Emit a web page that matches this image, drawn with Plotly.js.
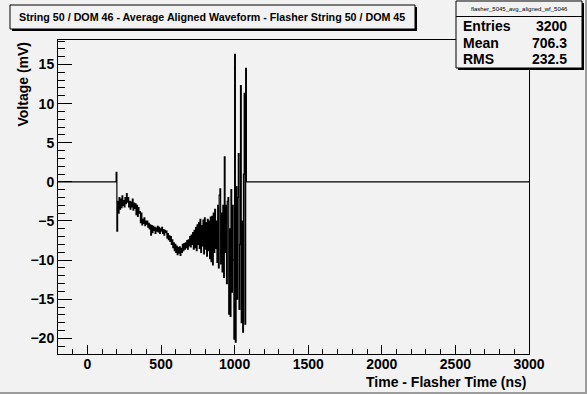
<!DOCTYPE html>
<html><head>
<meta charset="utf-8">
<script src="https://cdn.plot.ly/plotly-3.0.1.min.js"></script>
<style>
html,body{margin:0;padding:0;background:#f2f2f2;}
#wrap{width:587px;height:394px;box-sizing:border-box;border-right:2px solid #9c9c9c;border-bottom:2px solid #9c9c9c;overflow:hidden;background:#f2f2f2;}
#chart{width:585px;height:392px;}
</style></head><body><div id="wrap"><div id="chart"></div></div>
<script>
// ---- data ----
const chartTitle = "String 50 / DOM 46 - Average Aligned Waveform - Flasher String 50 / DOM 45";
const histName = "flasher_5045_avg_aligned_wf_5046";
const statLabels = ["Entries", "Mean", "RMS"];
const statValues = ["3200", "706.3", "232.5"];
const xTitle = "Time - Flasher Time (ns)";
const yTitle = "Voltage (mV)";

// flat baseline before the pulse
const preTime = [-200, 190];
const preVolt = [0, 0];
// pulse region: bins of 5 ns starting at 195 ns (mV)
const signalStart = 195;
const signalBinWidth = 5;
const signalVolt = [
  1.2, -6.3, -2.5, -4.0, -2.0, -3.5, -2.2, -3.3, -1.8, -3.0,
  -2.4, -3.2, -2.0, -2.8, -1.5, -2.6, -2.0, -3.2, -2.5, -3.5,
  -2.6, -3.2, -2.2, -3.6, -2.7, -3.4, -2.8, -4.2, -3.0, -4.4,
  -3.3, -4.0, -3.8, -5.2, -4.0, -5.5, -4.8, -5.3, -4.6, -5.6,
  -5.0, -5.4, -5.0, -5.8, -5.3, -6.0, -5.5, -6.8, -5.6, -6.5,
  -5.7, -6.2, -5.8, -6.6, -5.9, -6.3, -5.7, -6.4, -5.8, -6.6,
  -6.0, -6.3, -5.8, -6.6, -6.1, -6.8, -6.2, -6.5, -6.3, -7.2,
  -6.6, -7.4, -6.9, -7.6, -7.0, -8.0, -7.4, -8.4, -7.8, -8.8,
  -8.0, -9.0, -8.2, -9.3, -8.4, -9.1, -8.3, -9.4, -8.5, -9.0,
  -8.0, -8.8, -7.9, -8.6, -7.8, -8.4, -7.5, -8.6, -7.4, -8.2,
  -7.0, -8.3, -6.8, -8.0, -6.5, -8.6, -6.2, -8.4, -5.8, -8.8,
  -5.5, -8.0, -5.2, -8.5, -4.8, -9.0, -5.6, -8.2, -4.9, -9.2,
  -4.6, -8.6, -5.2, -9.5, -4.8, -8.8, -5.0, -9.8, -4.5, -10.2,
  -4.4, -10.6, -4.0, -9.0, -3.5, -8.5, -5.0, -10.3, -3.0, -11.0,
  -1.7, -0.9, -10.5, -4.0, -11.5, -3.0, -12.2, 3.2, -9.0, -3.0,
  -13.0, -2.5, -2.0, -16.9, -6.0, -17.2, -1.0, -14.1, -3.0, -10.0,
  -20.1, 16.3, -20.5, -0.6, -15.0, -2.0, 3.6, -16.3, -8.0, 12.3,
  -18.0, -5.0, -19.2, 1.0, 11.3, -18.2, 14.5
];
// flat baseline after the pulse
const postTime = [1080, 3000];
const postVolt = [0, 0];

const xRange = [-200, 3000];
const yRange = [-22.0, 18.13];

// ---- build trace ----
const signalTime = signalVolt.map((_, i) => signalStart + i * signalBinWidth);
const xs = preTime.concat(signalTime, postTime);
const ys = preVolt.concat(signalVolt, postVolt);

// plot-area pixel geometry
const L = 58, R = 529, T = 40, B = 354;
const px = x => (x - L) / (R - L);
const py = y => (B - y) / (B - T);

const FONT = 'Liberation Sans, Arial, Helvetica, sans-serif';
const BG = '#f2f2f2';

const shapes = [
  // title box shadow + box
  {type:'rect', xref:'paper', yref:'paper', x0:px(12), x1:px(417), y0:py(31), y1:py(7), fillcolor:'black', line:{width:0}, layer:'above'},
  {type:'rect', xref:'paper', yref:'paper', x0:px(10), x1:px(415), y0:py(29), y1:py(5), fillcolor:BG, line:{color:'black', width:1}, layer:'above'},
  // stats box shadow + box
  {type:'rect', xref:'paper', yref:'paper', x0:px(458), x1:px(584), y0:py(70), y1:py(3), fillcolor:'black', line:{width:0}, layer:'above'},
  {type:'rect', xref:'paper', yref:'paper', x0:px(456), x1:px(582), y0:py(68), y1:py(1), fillcolor:BG, line:{color:'black', width:1}, layer:'above'},
  {type:'line', xref:'paper', yref:'paper', x0:px(456), x1:px(582), y0:py(16.5), y1:py(16.5), line:{color:'black', width:1}, layer:'above'}
];

const annotations = [
  {xref:'paper', yref:'paper', x:px(212), y:py(17), text:chartTitle, showarrow:false, xanchor:'center', yanchor:'middle',
   font:{family:FONT, size:10.7, color:'black', weight:'bold'}},
  {xref:'paper', yref:'paper', x:px(519), y:py(8.5), text:histName, showarrow:false, xanchor:'center', yanchor:'middle',
   font:{family:FONT, size:6, color:'black'}},
  {xref:'paper', yref:'paper', x:px(529), y:py(382), text:xTitle, showarrow:false, xanchor:'right', yanchor:'middle',
   font:{family:FONT, size:14, color:'black', weight:'bold'}},
  {xref:'paper', yref:'paper', x:px(22), y:py(40), text:yTitle, showarrow:false, xanchor:'center', yanchor:'top', textangle:-90,
   font:{family:FONT, size:14, color:'black', weight:'bold'}}
];
const rowY = [26, 42.5, 59];
statLabels.forEach((lab, i) => {
  annotations.push({xref:'paper', yref:'paper', x:px(461), y:py(rowY[i]), text:lab, showarrow:false, xanchor:'left', yanchor:'middle',
    font:{family:FONT, size:14, color:'black', weight:'bold'}});
  annotations.push({xref:'paper', yref:'paper', x:px(569), y:py(rowY[i]), text:statValues[i], showarrow:false, xanchor:'right', yanchor:'middle',
    font:{family:FONT, size:14, color:'black', weight:'bold'}});
});

const trace = {
  type:'scatter', mode:'lines', x:xs, y:ys,
  line:{color:'black', width:1.2, shape:'hv', simplify:false},
  hoverinfo:'skip', showlegend:false
};

const axisCommon = {
  showgrid:false, zeroline:false, showline:true, mirror:true, linecolor:'black', linewidth:1,
  ticks:'inside', tickcolor:'black', tickwidth:1,
  tickfont:{family:FONT, size:14, color:'black', weight:'bold'}
};

const layout = {
  width:585, height:392,
  margin:{l:L, r:585 - R, t:T, b:392 - B, pad:0},
  paper_bgcolor:BG, plot_bgcolor:BG,
  showlegend:false,
  xaxis:Object.assign({}, axisCommon, {range:xRange, tick0:0, dtick:500, ticklen:9, ticklabelstandoff:-3,
    minor:{dtick:100, tick0:0, ticks:'inside', ticklen:5, tickcolor:'black', showgrid:false}}),
  yaxis:Object.assign({}, axisCommon, {range:yRange, tick0:0, dtick:5, ticklen:14,
    minor:{dtick:1, tick0:0, ticks:'inside', ticklen:7, tickcolor:'black', showgrid:false}}),
  shapes:shapes, annotations:annotations
};

Plotly.newPlot('chart', [trace], layout, {staticPlot:true, displayModeBar:false});
</script>
</body></html>
